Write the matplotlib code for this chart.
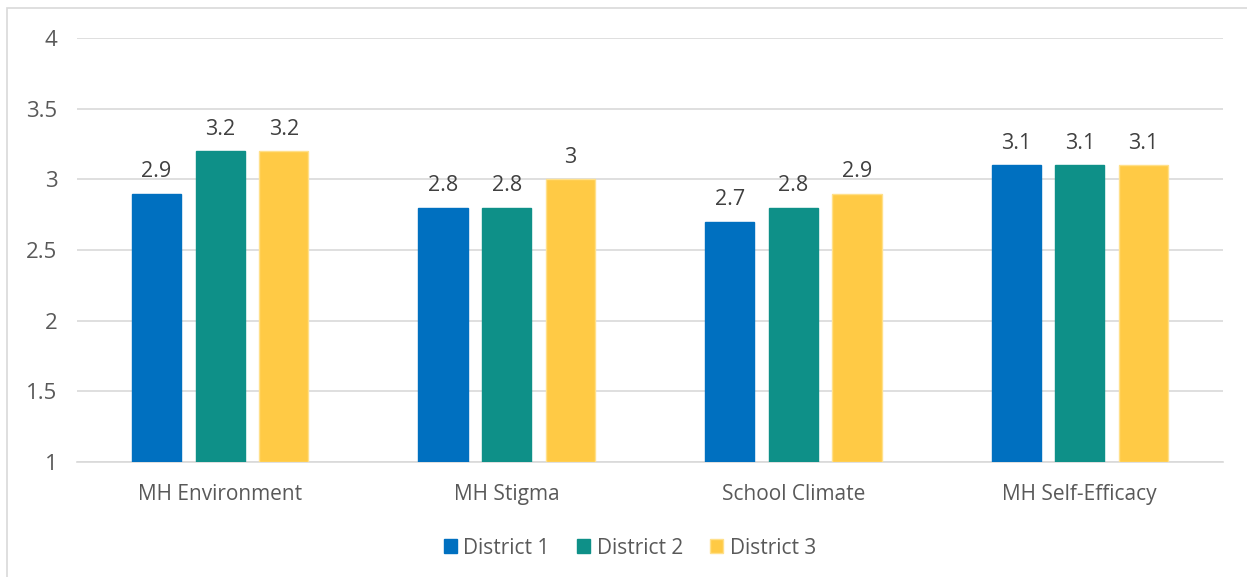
import matplotlib.pyplot as plt
import numpy as np
from matplotlib.patches import Rectangle

categories = ['MH Environment', 'MH Stigma', 'School Climate', 'MH Self-Efficacy']
series_names = ['District 1', 'District 2', 'District 3']
district1 = [2.9, 2.8, 2.7, 3.1]
district2 = [3.2, 2.8, 2.8, 3.1]
district3 = [3.2, 3.0, 2.9, 3.1]
yticks = [1, 1.5, 2, 2.5, 3, 3.5, 4]
ytick_labels = ['1', '1.5', '2', '2.5', '3', '3.5', '4']

plt.rcParams['font.family'] = ['Open Sans', 'DejaVu Sans']
text_color = '#595959'

fig = plt.figure(figsize=(12.47, 5.77), dpi=100)
ax = fig.add_axes([0.0617, 0.1993, 0.9191, 0.7347])

# light frame round the whole chart
fig.patches.append(Rectangle((0.0056, -0.01), 1.2, 0.996, transform=fig.transFigure,
                             fill=False, edgecolor='#d9d9d9', linewidth=1.2))

x = np.arange(len(categories))
width = 0.172
offset = 0.222
colors = ['#0070C0', '#0E9088', '#FFCA45']
edges = ['#0070C0', '#0E9088', '#FFE08A']

for i, (vals, name) in enumerate(zip([district1, district2, district3], series_names)):
    pos = x + (i - 1) * offset
    ax.bar(pos, np.array(vals) - 1, width, bottom=1, color=colors[i],
           edgecolor=edges[i], linewidth=1, label=name, zorder=3)
    for p, v in zip(pos, vals):
        ax.text(p, v + 0.08, f'{v:g}', ha='center', va='bottom', fontsize=15.5, color='#404040')

ax.set_ylim(1, 4)
ax.set_xlim(-0.5, len(categories) - 0.5)
ax.set_yticks(yticks)
ax.set_yticklabels(ytick_labels)
ax.set_xticks(x)
ax.set_xticklabels(categories)
ax.tick_params(axis='x', length=0, labelsize=15, colors=text_color, pad=16)
ax.tick_params(axis='y', length=0, labelsize=16, colors=text_color, pad=14)
ax.grid(axis='y', color='#d9d9d9', linewidth=1.2, zorder=0)
for s in ['top', 'right', 'left']:
    ax.spines[s].set_visible(False)
ax.spines['bottom'].set_color('#d9d9d9')
ax.spines['bottom'].set_linewidth(1.2)

leg = fig.legend(loc='center', bbox_to_anchor=(0.505, 0.05), ncol=3, frameon=False,
                 fontsize=15, handlelength=0.65, handleheight=0.65, handletextpad=0.3,
                 columnspacing=1.3)
for t in leg.get_texts():
    t.set_color(text_color)

fig.savefig('out.png', dpi=100, facecolor='white')
